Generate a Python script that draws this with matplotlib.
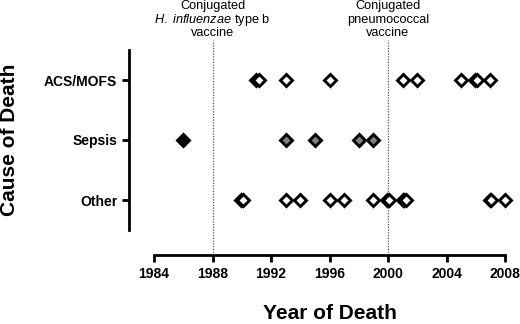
import matplotlib
matplotlib.use("Agg")
import matplotlib.pyplot as plt

plt.rcParams["font.family"] = "Liberation Sans"
plt.rcParams["mathtext.fontset"] = "custom"
plt.rcParams["mathtext.rm"] = "Liberation Sans"
plt.rcParams["mathtext.it"] = "Liberation Sans:italic"

categories = ["ACS/MOFS", "Sepsis", "Other"]

# open diamonds (clustered years = several deaths in the same year)
acs_open = [1991.0, 1991.15, 1993, 1996, 2001, 2002, 2005, 2005.95, 2006.1, 2007]
other_open = [1989.98, 1990.1, 1993, 1994, 1996, 1997, 1999,
              1999.95, 2000.05, 2001.0, 2001.12, 2001.25, 2006.95, 2007.05, 2008]
# filled diamonds
sepsis_black = [1986]
sepsis_gray = [1993, 1995, 1998, 1999]

vaccine_years = [1988, 2000]
vaccine_labels = [["Conjugated", "$\\mathit{H.\\ influenzae}$ type b", "vaccine"],
                  ["Conjugated", "pneumococcal", "vaccine"]]

fig = plt.figure(figsize=(5.2, 3.24), dpi=100)
ax = fig.add_axes([154 / 520, (324 - 230) / 324, 351 / 520, 180 / 324])

mk = dict(marker="D", markersize=6.3, markeredgewidth=2.1, markeredgecolor="black",
          linestyle="none", clip_on=False, zorder=3)
ax.plot(acs_open, [0] * len(acs_open), markerfacecolor="white", **mk)
ax.plot(other_open, [2] * len(other_open), markerfacecolor="white", **mk)
ax.plot(sepsis_black, [1] * len(sepsis_black), markerfacecolor="black", **mk)
ax.plot(sepsis_gray, [1] * len(sepsis_gray), markerfacecolor="#808080", **mk)

trans = ax.get_xaxis_transform()
baselines = [9, 22.5, 36]  # pixels from top of figure
for yr, lines in zip(vaccine_years, vaccine_labels):
    ax.plot([yr, yr], [-0.14, 1.055], transform=trans, color="#555555",
            linestyle=(0, (1, 1.2)), linewidth=0.9, clip_on=False, zorder=1)
    for b, txt in zip(baselines, lines):
        ax.text(yr, 1 + (50 - b) / 180, txt, transform=trans, ha="center",
                va="baseline", fontsize=9.2)

ax.set_xlim(1984, 2008)
ax.set_ylim(2.5, -0.5)
ax.set_xticks(range(1984, 2009, 4))
ax.set_yticks(range(len(categories)))
ax.set_yticklabels(categories)

for s in ["top", "right"]:
    ax.spines[s].set_visible(False)
for s in ["left", "bottom"]:
    ax.spines[s].set_position(("outward", 18))
    ax.spines[s].set_linewidth(2)
ax.tick_params(width=2, length=5, labelsize=10)
for lab in ax.get_xticklabels() + ax.get_yticklabels():
    lab.set_fontweight("bold")

ax.set_xlabel("Year of Death", fontsize=15, fontweight="bold", labelpad=17)
ax.set_ylabel("Cause of Death", fontsize=15, fontweight="bold", labelpad=18)

fig.savefig("out.png", dpi=100)
